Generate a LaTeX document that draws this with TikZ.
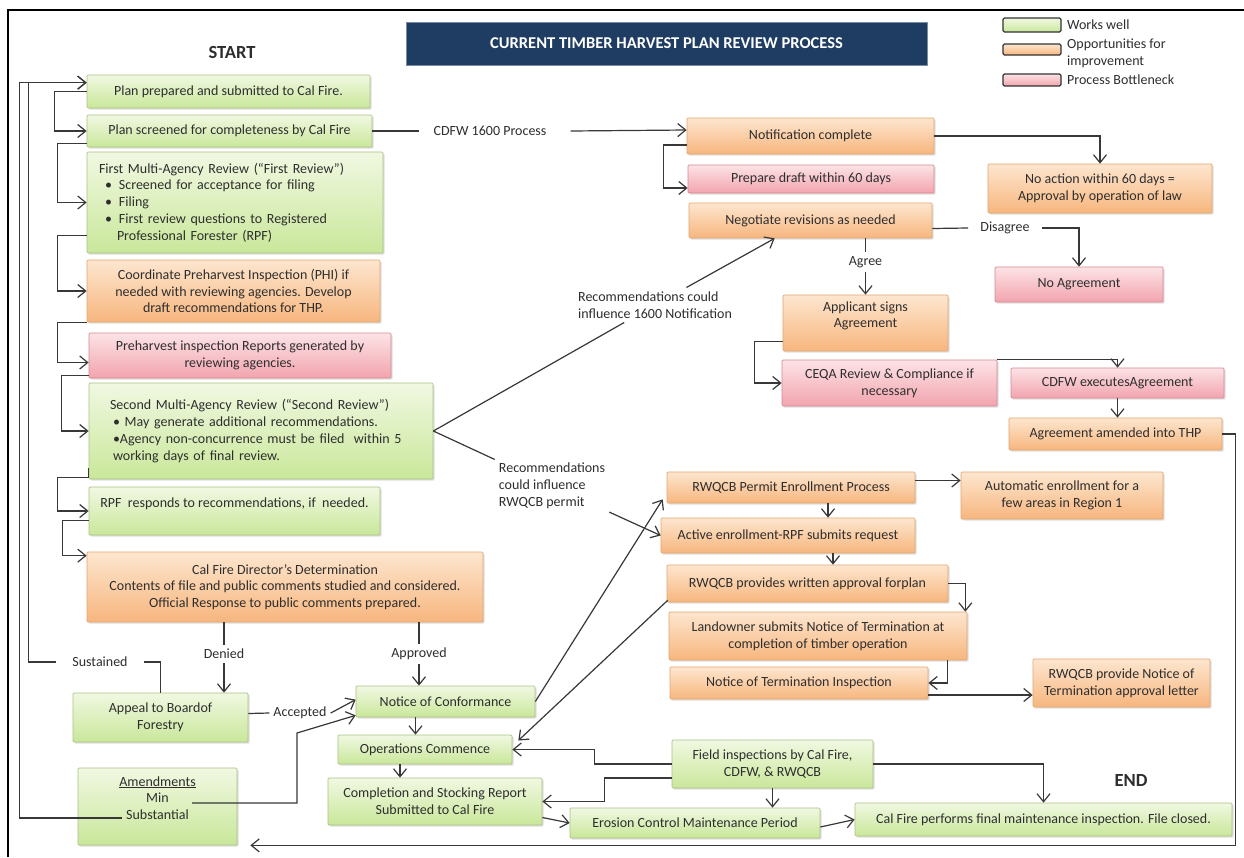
\documentclass[tikz,border=0pt]{standalone}
\usepackage{fontspec}
\setmainfont{Carlito}
\usetikzlibrary{arrows.meta,shadows,calc}
\definecolor{gA}{HTML}{F1F8E2}\definecolor{gB}{HTML}{C9E79A}\definecolor{gD}{HTML}{A9C283}
\definecolor{oA}{HTML}{FDE6CF}\definecolor{oB}{HTML}{F7B67E}\definecolor{oD}{HTML}{E2A66F}
\definecolor{pA}{HTML}{FCE3E6}\definecolor{pB}{HTML}{F2A4AE}\definecolor{pD}{HTML}{D68890}
\definecolor{navy}{HTML}{1F3D63}
\definecolor{ln}{HTML}{383838}
\definecolor{tx}{HTML}{2E2E2E}
\newcommand\mainsz{\fontsize{14}{16.8}\selectfont}
\newcommand\mybox[7]{%
  \pgfmathsetmacro\mybw{#5-#3}\pgfmathsetmacro\mybh{#6-#4}%
  \node[#1, minimum width=\mybw pt, minimum height=\mybh pt] (#2) at ({(#3+#5)/2},{(#4+#6)/2}) {#7};}
\begin{document}
\begin{tikzpicture}[x=1pt,y=-1pt,
  box/.style={draw, line width=0.7pt, inner sep=2pt, align=center, font=\mainsz, text=tx,
    rounded corners=1pt, drop shadow={shadow xshift=1.5pt,shadow yshift=-1.5pt,opacity=0.25}},
  gbox/.style={box, draw=gD, top color=gA, bottom color=gB},
  obox/.style={box, draw=oD, top color=oA, bottom color=oB},
  pbox/.style={box, draw=pD, top color=pA, bottom color=pB},
  titlebox/.style={draw=navy!60, line width=0.7pt, fill=navy, text=white, inner sep=2pt,
    font=\bfseries\fontsize{16.5}{19}\selectfont},
  legbox/.style={draw=black!80, line width=1.2pt, rounded corners=1.5pt, inner sep=0pt},
  lab/.style={font=\mainsz, text=tx, inner sep=4pt, align=left},
  conn/.style={draw=ln, line width=1.2pt},
  arr/.style={conn, -{Straight Barb[length=8pt,width=13pt,line width=1.2pt]}}]
\useasboundingbox (0,0) rectangle (1244,857);
\fill[white] (0,0) rectangle (1244,857);
\draw[line width=2pt, black] (8,857) -- (8,10) -- (1244,10);

% title and legend
\mybox{titlebox}{title}{406}{22}{927}{65}{CURRENT TIMBER HARVEST PLAN REVIEW PROCESS}
\mybox{legbox, top color=gA, bottom color=gB}{lg1}{1003}{18}{1061}{32}{}
\mybox{legbox, top color=oA, bottom color=oB}{lg2}{1003}{44}{1061}{55}{}
\mybox{legbox, top color=pA, bottom color=pB}{lg3}{1003}{74}{1061}{86}{}
\node[lab, anchor=west, inner sep=1pt] (lt1) at (1066,25) {Works well};
\node[lab, anchor=west, inner sep=1pt] (lt2) at (1066,53) {Opportunities for\\ improvement};
\node[lab, anchor=west, inner sep=1pt] (lt3) at (1066,80) {Process Bottleneck};

\node[lab, font=\bfseries\fontsize{18.5}{20}\selectfont] (start) at (232,52) {START};
\node[lab, font=\bfseries\fontsize{18.5}{20}\selectfont] (endl) at (1131,780) {END};

% left column
\mybox{gbox}{prep}{87}{75}{370}{108}{Plan prepared and submitted to Cal Fire.}
\mybox{gbox}{scr}{87}{115}{372}{147}{Plan screened for completeness by Cal Fire}
\mybox{gbox,align=left,text width=272pt}{first}{87}{152}{383}{253}{First Multi-Agency Review (“First Review”)\\ \hspace*{6pt}\textbullet\hspace{7pt}Screened for acceptance for filing\\ \hspace*{6pt}\textbullet\hspace{7pt}Filing\\ \hspace*{6pt}\textbullet\hspace{7pt}First review questions to Registered\\ \hspace*{18pt}Professional Forester (RPF)}
\mybox{obox}{coord}{87}{260}{380}{322}{Coordinate Preharvest Inspection (PHI) if\\ needed with reviewing agencies. Develop\\ draft recommendations for THP.}
\mybox{pbox}{phi}{89}{333}{391}{378}{Preharvest inspection Reports generated by\\ reviewing agencies.}
\mybox{gbox,align=left,text width=302pt}{sec}{89}{383}{433}{479}{Second Multi-Agency Review (“Second Review”)\\ \hspace*{3pt}\textbullet\ May generate additional recommendations.\\ \hspace*{3pt}\textbullet Agency non-concurrence must be filed\ \ within 5\\ \hspace*{3pt}working days of final review.}
\mybox{gbox}{rpf}{89}{487}{380}{535}{RPF\ \ responds to recommendations, if\ \ needed.\\ \mbox{}}
\mybox{obox}{dir}{87}{552}{483}{622}{Cal Fire Director’s Determination\\ Contents of file and public comments studied and considered.\\ Official Response to public comments prepared.}
\mybox{gbox}{appeal}{73}{693}{248}{742}{Appeal to Boardof\\ Forestry}
\mybox{gbox}{amend}{78}{768}{237}{845}{\underline{Amendments}\\ Min\\ Substantial\\ \mbox{}}
\mybox{gbox}{noc}{356}{686}{535}{717}{Notice of Conformance}
\mybox{gbox}{ops}{338}{735}{512}{764}{Operations Commence}
\mybox{gbox}{comp}{328}{778}{542}{825}{Completion and Stocking Report\\ Submitted to Cal Fire}
\mybox{gbox}{eros}{570}{808}{820}{838}{Erosion Control Maintenance Period}
\mybox{gbox}{field}{672}{740}{873}{788}{Field inspections by Cal Fire,\\ CDFW, \& RWQCB}
\mybox{gbox}{final}{855}{803}{1232}{836}{Cal Fire performs final maintenance inspection. File closed.}

% right part
\mybox{obox}{notif}{687}{118}{934}{154}{Notification complete}
\mybox{pbox}{draft}{688}{165}{934}{193}{Prepare draft within 60 days}
\mybox{obox}{neg}{689}{203}{932}{238}{Negotiate revisions as needed}
\mybox{obox}{noact}{988}{164}{1212}{213}{No action within 60 days =\\ Approval by operation of law}
\mybox{pbox}{noagr}{995}{267}{1163}{302}{No Agreement}
\mybox{obox}{appl}{783}{295}{948}{351}{Applicant signs\\ Agreement\\ \mbox{}}
\mybox{pbox}{ceqa}{782}{360}{997}{406}{CEQA Review \& Compliance if\\ necessary}
\mybox{pbox}{cdfw}{1011}{368}{1224}{398}{CDFW executesAgreement}
\mybox{obox}{athp}{1009}{418}{1222}{450}{Agreement amended into THP}
\mybox{obox}{permit}{667}{472}{915}{503}{RWQCB Permit Enrollment Process}
\mybox{obox}{auto}{961}{472}{1163}{519}{Automatic enrollment for a\\ few areas in Region 1}
\mybox{obox}{active}{661}{518}{915}{553}{Active enrollment-RPF submits request}
\mybox{obox}{rwprov}{667}{565}{948}{602}{RWQCB provides written approval forplan}
\mybox{obox}{land}{669}{612}{967}{660}{Landowner submits Notice of Termination at\\ completion of timber operation}
\mybox{obox}{nti}{670}{667}{928}{699}{Notice of Termination Inspection}
\mybox{obox}{letter}{1033}{659}{1210}{707}{RWQCB provide Notice of\\ Termination approval letter}

% labels
\node[lab] (c16) at (490,131) {CDFW 1600 Process};
\node[lab] (rec1) at (655,305) {Recommendations could\\ influence 1600 Notification};
\node[lab] (rec2) at (552,486) {Recommendations\\ could influence\\ RWQCB permit};
\node[lab] (dis) at (1005,228) {Disagree};
\node[lab] (agr) at (865.5,262) {Agree};
\node[lab] (den) at (224,654) {Denied};
\node[lab] (appr) at (419,654) {Approved};
\node[lab] (sust) at (100,662) {Sustained};
\node[lab] (acc) at (300,713) {Accepted};

% left column connectors
\draw[arr] (prep.west) -- ++(-32,0) |- (scr.west);
\draw[arr] ([yshift=4pt]scr.south west) -- ++(-29,0) |- (first.west);
\draw[arr] ([yshift=18pt]first.south west) -- ++(-29,0) |- (coord.west);
\draw[arr] (coord.south west) -- ++(-29,0) |- ([yshift=-7pt]phi.west);
\draw[arr] ([yshift=3pt]phi.south west) -- ++(-27,0) |- (sec.west);
\draw[arr] ([yshift=11pt]sec.south west) -- ++(0,9) -- ++(-31,0) |- (rpf.west);
\draw[arr] ([yshift=15pt]rpf.south west) -- ++(-26,0) |- ([yshift=-4pt]dir.north west);

% long loops back to start
\coordinate (pin) at ([yshift=-8pt]prep.north west);
\draw[conn] (appeal.north) |- ([xshift=12pt]sust.east);
\draw[arr] ([xshift=-12pt]sust.west) -| ([xshift=-58pt]pin) -- (pin);
\coordinate (subst) at (122,818);
\draw[arr] (subst) -| ([xshift=-67pt]pin) -- (pin);
\coordinate (minpt) at (192,803);
\draw[arr] (minpt) -- ++(105,0) -- ++(0,-70) -- ([yshift=2pt]noc.south west);
\draw[conn] ([yshift=4pt]appeal.east) -- (acc.west);
\draw[arr] (acc.east) -- ([yshift=-14pt]noc.north west);

% director
\draw[conn] ([xshift=-61pt]dir.south) -- (den.north);
\draw[arr] (den.south) -- (den.south |- appeal.north);
\draw[conn] ([xshift=134pt]dir.south) -- (appr.north);
\draw[arr] (appr.south) -- (appr.south |- noc.north);

% operations
\draw[arr] ([xshift=-30pt]noc.south) -- ([xshift=-30pt]noc.south |- ops.north);
\draw[arr] ([xshift=-25pt]ops.south) -- ([xshift=-25pt]ops.south |- comp.north);
\draw[arr] ([yshift=-16pt]comp.east) -- (eros.west);
\draw[arr] ([yshift=-4pt]eros.east) -- (final.west);
\draw[arr] (field.south) -- (field.south |- eros.north);
\draw[arr] (field.east) -| (final.north);
\draw[arr] (field.west) -- ++(-77,0) |- (ops.east);
\draw[arr] ([yshift=-14pt]field.west) -- ++(-67,0) |- (comp.east);
\draw[arr] (noc.east) -- ([xshift=-4pt,yshift=4pt]permit.south west);
\draw[arr] ([xshift=1pt,yshift=2pt]rwprov.south west) -- ([xshift=6pt,yshift=9pt]ops.east);

% second review influences
\draw[conn] (sec.east) -- (rec1);
\draw[arr] (rec1) -- ([xshift=86pt]neg.south west);
\draw[conn] (sec.east) -- (rec2);
\draw[arr] (rec2) -- (active.west);

% CDFW 1600
\draw[conn] (scr.east) -- ([xshift=-10pt]c16.west);
\draw[arr] ([xshift=20pt]c16.east) -- ([yshift=6pt]notif.west);
\draw[arr] ([yshift=-9pt]notif.west) -- ++(-23,0) |- ([yshift=-9pt]draft.west);
\draw[arr] (notif.east) -| (noact.north);
\draw[conn] ([yshift=-8pt]neg.east) -- ([xshift=-8pt]dis.west);
\draw[arr] ([xshift=8pt]dis.east) -| (noagr.north);
\draw[conn] (neg.south -| appl.north) -- (agr.north);
\draw[arr] (agr.south) -- (appl.north);
\draw[arr] ([yshift=10pt]appl.south west) -- ++(-28,0) |- (ceqa.west);
\draw[arr] (ceqa.north east) -| (cdfw.north);
\draw[arr] (cdfw.south) -- (cdfw.south |- athp.north);
\draw[arr] (athp.east) -- ++(13,0) |- ([xshift=13pt]amend.south east);

% RWQCB
\draw[arr] ([yshift=7pt]permit.east) -- ([yshift=7pt]permit.east -| auto.west);
\draw[arr] ([xshift=37pt]permit.south) -- ([xshift=37pt]permit.south |- active.north);
\draw[arr] ([xshift=45pt]active.south) -- ([xshift=45pt]active.south |- rwprov.north);
\draw[arr] (rwprov.east) -| ([xshift=-2pt]land.north east);
\draw[arr] ([xshift=-20pt]land.south east) |- (nti.east);
\draw[arr] ([yshift=-12pt]nti.east) -- ([yshift=-12pt]nti.east -| letter.west);
\end{tikzpicture}
\end{document}
